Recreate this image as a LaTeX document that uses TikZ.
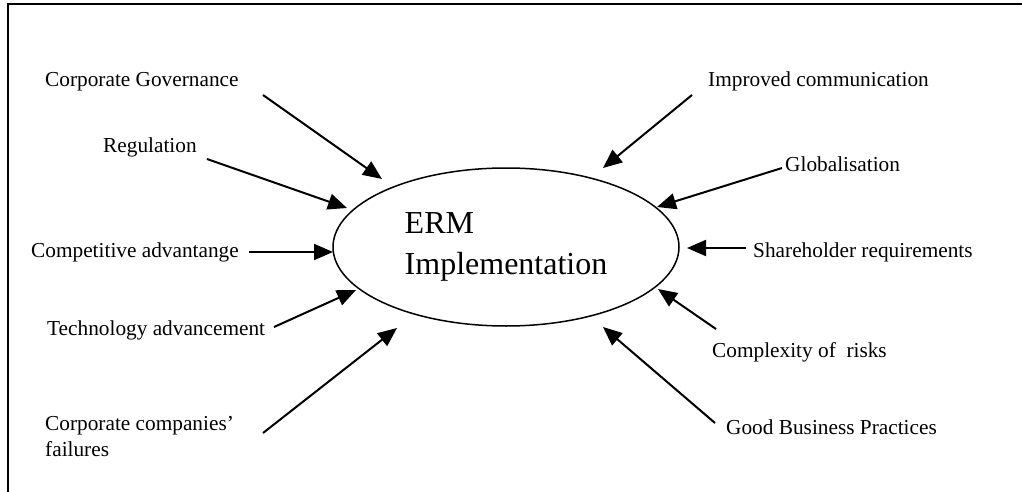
\documentclass[tikz,border=0pt]{standalone}
\usepackage{fontspec}
\setmainfont{Liberation Serif}
\usetikzlibrary{arrows.meta, shapes}
\tikzset{factorlabel/.style={anchor=base west, inner sep=0pt, font=\fontsize{21.3}{26}\selectfont, align=left},factorarrow/.style={-{Triangle[length=19pt, width=16pt]}, line width=2pt}}

\begin{document}
\begin{tikzpicture}[
        x=1pt, y=-1pt,
        ermnode/.style={ellipse, draw=black, line width=1.5pt, minimum width=346pt, minimum height=158pt, font=\fontsize{32}{41}\selectfont, align=left},
    ]
        \useasboundingbox (0,0) rectangle (1022,492);
        % Frame
        \draw[line width=2pt] (8,492) -- (8,4) -- (1022,4);
        % Centre
        \node[ermnode] (erm) at (506,247) {ERM\\Implementation};
        % Drivers on the left
        \node[factorlabel] (corpgov) at (45,87) {Corporate Governance};
        \node[factorlabel] (regulation) at (103,152) {Regulation};
        \node[factorlabel] (competitive) at (31,257) {Competitive advantange};
        \node[factorlabel] (technology) at (47,335) {Technology advancement};
        \node[factorlabel] (failures) at (45,456) {Corporate companies'\\failures};
        % Drivers on the right
        \node[factorlabel] (communication) at (708,87) {Improved communication};
        \node[factorlabel] (globalisation) at (785,171) {Globalisation};
        \node[factorlabel] (shareholder) at (753,257) {Shareholder requirements};
        \node[factorlabel] (risks) at (712,357) {Complexity of~ risks};
        \node[factorlabel] (practices) at (726,434) {Good Business Practices};
        % Arrows
        \foreach \name/\sx/\sy/\tx/\ty in {
            corpgov/263/95/382/179,
            regulation/207/159/347/208,
            competitive/249/252/333/252,
            technology/274/327/356/290,
            failures/263/433/397/328,
            communication/692/95/603/168,
            globalisation/782/168/657/207,
            shareholder/746/248/687/248,
            risks/716/329/658/289,
            practices/715/423/603/327} {
            \coordinate (\name-start) at (\sx,\sy);
            \coordinate (\name-tip) at (\tx,\ty);
            \draw[factorarrow] (\name-start) -- (\name-tip);
        }
    \end{tikzpicture}
\end{document}
